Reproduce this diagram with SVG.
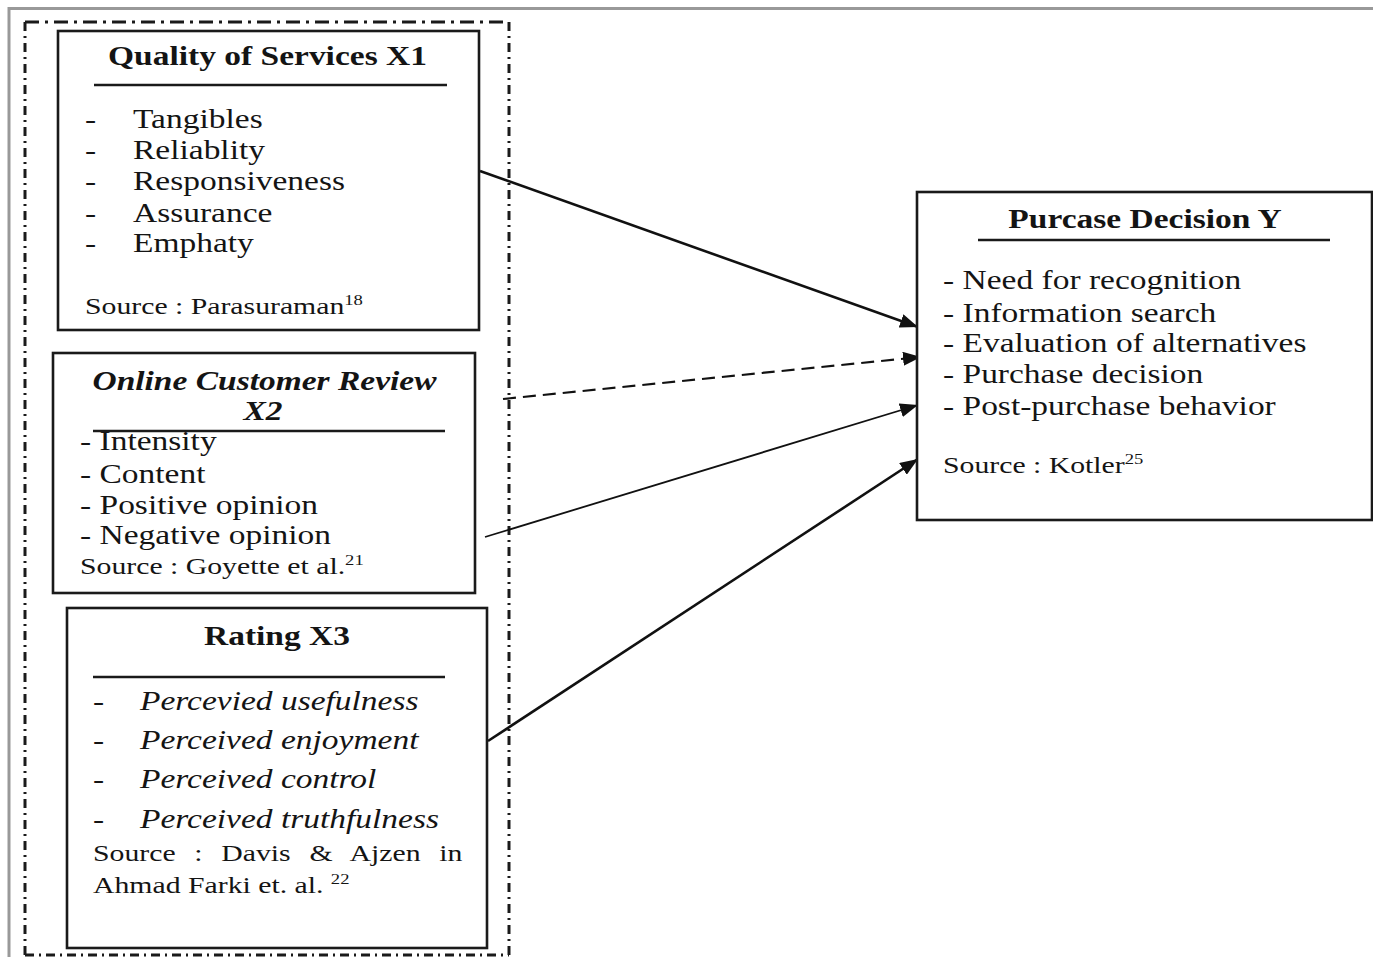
<svg xmlns="http://www.w3.org/2000/svg" width="1373" height="957" viewBox="0 0 1373 957">
<defs>
<style>
.t{font-family:"Liberation Serif","Times New Roman",serif;fill:#141414}
.b{font-weight:bold}
.i{font-style:italic}
.f27{font-size:27px}
.f24{font-size:24px}
.sup{font-size:15px}
.box{fill:#fff;stroke:#1a1a1a;stroke-width:2.6}
.rule{stroke:#1a1a1a;stroke-width:2.4}
.frame{fill:none;stroke:#1a1a1a;stroke-width:3}
.conn{fill:none;stroke:#111;marker-end:url(#ah)}
</style>
<marker id="ah" markerUnits="userSpaceOnUse" markerWidth="18" markerHeight="14" viewBox="0 0 18 14" refX="18" refY="7" orient="auto">
<path d="M0,0 L18,7 L0,14 z" fill="#111"/>
</marker>
</defs>
<rect width="1373" height="957" fill="#fff"/>
<path d="M9,957 V8.5 H1373" fill="none" stroke="#999" stroke-width="3"/>
<g id="group-frame">
<line class="frame" x1="25" y1="22" x2="509" y2="22" stroke-dasharray="14 6 3 6"/>
<line class="frame" x1="25" y1="22" x2="25" y2="957" stroke-dasharray="9 5 2 5"/>
<line class="frame" x1="509" y1="22" x2="509" y2="957" stroke-dasharray="9 5 2 5"/>
<line class="frame" x1="25" y1="955" x2="509" y2="955" stroke-dasharray="9 5 2 5"/>
</g>
<g id="connectors">
<line class="conn" x1="480" y1="171" x2="918" y2="327" stroke-width="2.6"/>
<line class="conn" x1="503" y1="399" x2="921" y2="357" stroke-width="2.2" stroke-dasharray="13 7"/>
<line class="conn" x1="485" y1="537" x2="918" y2="405" stroke-width="1.8"/>
<line class="conn" x1="488" y1="741" x2="918" y2="459" stroke-width="2.6"/>
</g>
<g id="node-x1">
<rect class="box" x="58" y="31" width="421" height="299"/>
<text class="t b f27" text-anchor="middle" transform="translate(267.5,65) scale(1.24,1)">Quality of Services X1</text>
<line class="rule" x1="94" y1="85" x2="447" y2="85"/>
<text class="t f27" transform="translate(85,128) scale(1.24,1)">-</text>
<text class="t f27" transform="translate(133,128) scale(1.24,1)">Tangibles</text>
<text class="t f27" transform="translate(85,159) scale(1.24,1)">-</text>
<text class="t f27" transform="translate(133,159) scale(1.24,1)">Reliablity</text>
<text class="t f27" transform="translate(85,190) scale(1.24,1)">-</text>
<text class="t f27" transform="translate(133,190) scale(1.24,1)">Responsiveness</text>
<text class="t f27" transform="translate(85,222) scale(1.24,1)">-</text>
<text class="t f27" transform="translate(133,222) scale(1.24,1)">Assurance</text>
<text class="t f27" transform="translate(85,252) scale(1.24,1)">-</text>
<text class="t f27" transform="translate(133,252) scale(1.24,1)">Emphaty</text>
<text class="t f24" transform="translate(85,314) scale(1.24,1)">Source : Parasuraman<tspan class="sup" dy="-9">18</tspan></text>
</g>
<g id="node-x2">
<rect class="box" x="53" y="353" width="422" height="240"/>
<text class="t b i f27" text-anchor="middle" transform="translate(264.5,390) scale(1.24,1)">Online Customer Review</text>
<text class="t b i f27" text-anchor="middle" transform="translate(263,420) scale(1.24,1)">X2</text>
<line class="rule" x1="93" y1="431" x2="445" y2="431"/>
<text class="t f27" transform="translate(80,450) scale(1.24,1)">- Intensity</text>
<text class="t f27" transform="translate(80,483) scale(1.24,1)">- Content</text>
<text class="t f27" transform="translate(80,514) scale(1.24,1)">- Positive opinion</text>
<text class="t f27" transform="translate(80,544) scale(1.24,1)">- Negative opinion</text>
<text class="t f24" transform="translate(80,574) scale(1.24,1)">Source : Goyette et al.<tspan class="sup" dy="-9">21</tspan></text>
</g>
<g id="node-x3">
<rect class="box" x="67" y="608" width="420" height="340"/>
<text class="t b f27" text-anchor="middle" transform="translate(277,645) scale(1.24,1)">Rating X3</text>
<line class="rule" x1="93" y1="677" x2="445" y2="677"/>
<text class="t f27" transform="translate(93,710) scale(1.24,1)">-</text>
<text class="t i f27" transform="translate(140,710) scale(1.24,1)">Percevied usefulness</text>
<text class="t f27" transform="translate(93,749) scale(1.24,1)">-</text>
<text class="t i f27" transform="translate(140,749) scale(1.24,1)">Perceived enjoyment</text>
<text class="t f27" transform="translate(93,788) scale(1.24,1)">-</text>
<text class="t i f27" transform="translate(140,788) scale(1.24,1)">Perceived control</text>
<text class="t f27" transform="translate(93,828) scale(1.24,1)">-</text>
<text class="t i f27" transform="translate(140,828) scale(1.24,1)">Perceived truthfulness</text>
<text class="t f24" word-spacing="9.1" transform="translate(93,861) scale(1.24,1)">Source : Davis &amp; Ajzen in</text>
<text class="t f24" transform="translate(93,893) scale(1.24,1)">Ahmad Farki et. al. <tspan class="sup" dy="-9">22</tspan></text>
</g>
<g id="node-y">
<rect class="box" x="917" y="192" width="455" height="328"/>
<text class="t b f27" text-anchor="middle" transform="translate(1145,228) scale(1.24,1)">Purcase Decision Y</text>
<line class="rule" x1="978" y1="240" x2="1330" y2="240"/>
<text class="t f27" transform="translate(943,289) scale(1.24,1)">- Need for recognition</text>
<text class="t f27" transform="translate(943,322) scale(1.24,1)">- Information search</text>
<text class="t f27" transform="translate(943,352) scale(1.24,1)">- Evaluation of alternatives</text>
<text class="t f27" transform="translate(943,383) scale(1.24,1)">- Purchase decision</text>
<text class="t f27" transform="translate(943,415) scale(1.24,1)">- Post-purchase behavior</text>
<text class="t f24" transform="translate(943,473) scale(1.24,1)">Source : Kotler<tspan class="sup" dy="-9">25</tspan></text>
</g>
</svg>
